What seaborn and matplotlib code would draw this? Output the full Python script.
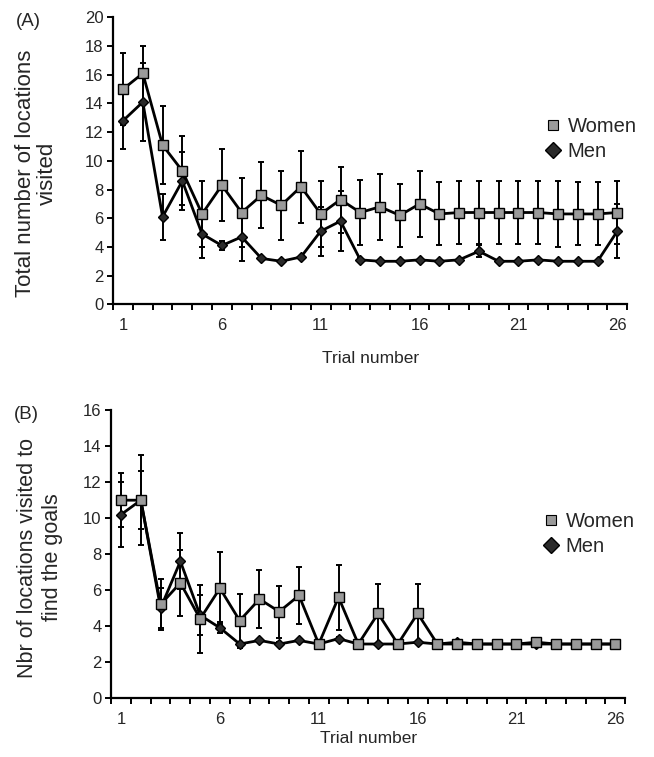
import numpy as np
import pandas as pd
import matplotlib
matplotlib.use("Agg")
import matplotlib.pyplot as plt
from matplotlib.lines import Line2D
import seaborn as sns

trials = list(range(1, 27))

# Panel A: total number of locations visited
women_a = [15.0, 16.1, 11.1, 9.3, 6.3, 8.3, 6.4, 7.6, 6.9, 8.2, 6.3, 7.3, 6.4,
           6.8, 6.2, 7.0, 6.3, 6.4, 6.4, 6.4, 6.4, 6.4, 6.3, 6.3, 6.3, 6.4]
women_a_err = [2.5, 1.9, 2.7, 2.4, 2.3, 2.5, 2.4, 2.3, 2.4, 2.5, 2.3, 2.3, 2.3,
               2.3, 2.2, 2.3, 2.2, 2.2, 2.2, 2.2, 2.2, 2.2, 2.3, 2.2, 2.2, 2.2]
men_a = [12.8, 14.1, 6.1, 8.6, 4.9, 4.1, 4.7, 3.2, 3.0, 3.3, 5.1, 5.8, 3.1,
         3.0, 3.0, 3.1, 3.0, 3.1, 3.7, 3.0, 3.0, 3.1, 3.0, 3.0, 3.0, 5.1]
men_a_err = [2.0, 2.7, 1.6, 2.0, 1.7, 0.3, 1.7, 0.1, 0.1, 0.1, 1.7, 2.1, 0.1,
             0.0, 0.0, 0.0, 0.0, 0.0, 0.4, 0.0, 0.0, 0.0, 0.0, 0.0, 0.0, 1.9]

# Panel B: locations visited to find the goals
women_b = [11.0, 11.0, 5.2, 6.4, 4.4, 6.1, 4.3, 5.5, 4.8, 5.7, 3.0, 5.6, 3.0,
           4.7, 3.0, 4.7, 3.0, 3.0, 3.0, 3.0, 3.0, 3.1, 3.0, 3.0, 3.0, 3.0]
women_b_err = [1.5, 2.5, 1.4, 1.85, 1.9, 2.0, 1.5, 1.6, 1.45, 1.6, 0.0, 1.8, 0.0,
               1.65, 0.0, 1.65, 0.0, 0.0, 0.0, 0.0, 0.0, 0.0, 0.0, 0.0, 0.0, 0.0]
men_b = [10.2, 11.0, 5.0, 7.6, 4.6, 3.9, 3.0, 3.2, 3.0, 3.2, 3.0, 3.3, 3.0,
         3.0, 3.0, 3.1, 3.0, 3.1, 3.0, 3.0, 3.0, 3.0, 3.0, 3.0, 3.0, 3.0]
men_b_err = [1.8, 1.6, 1.1, 1.55, 1.1, 0.3, 0.1, 0.1, 0.1, 0.1, 0.0, 0.1, 0.0,
             0.0, 0.0, 0.0, 0.0, 0.0, 0.0, 0.0, 0.0, 0.0, 0.0, 0.0, 0.0, 0.0]

sns.set_style("white")
plt.rcParams['font.family'] = ['Liberation Sans', 'DejaVu Sans']

fig = plt.figure(figsize=(6.54, 7.57), dpi=100)
ax_a = fig.add_axes([0.173, 0.598, 0.786, 0.379])
ax_b = fig.add_axes([0.170, 0.078, 0.786, 0.380])


def draw_panel(ax, women, women_err, men, men_err, ymax, ylabel, ylab_fs, ylab_ls,
               ylab_pos, xlab_pad, tag, leg_y):
    df = pd.DataFrame({"trial": trials, "women": women, "men": men})
    ax.errorbar(trials, men, yerr=men_err, fmt="none", ecolor="black",
                elinewidth=1.4, capsize=2.2, capthick=1.4, zorder=2)
    ax.errorbar(trials, women, yerr=women_err, fmt="none", ecolor="black",
                elinewidth=1.4, capsize=2.2, capthick=1.4, zorder=2)
    sns.lineplot(data=df, x="trial", y="men", ax=ax, color="black", lw=2,
                 marker="D", markersize=5.5, markerfacecolor="#2a2a2a",
                 markeredgecolor="black", markeredgewidth=1, zorder=3)
    sns.lineplot(data=df, x="trial", y="women", ax=ax, color="black", lw=2,
                 marker="s", markersize=7, markerfacecolor="#9a9a9a",
                 markeredgecolor="black", markeredgewidth=1, zorder=4)

    ax.set_xlim(0.5, 26.5)
    ax.set_ylim(0, ymax)
    ax.set_yticks(np.arange(0, ymax + 1, 2))
    ax.set_xticks(np.arange(0.5, 27, 1))
    ax.set_xticklabels([])
    ax.set_xticks([1, 6, 11, 16, 21, 26], minor=True)
    ax.set_xticklabels(["1", "6", "11", "16", "21", "26"], minor=True)
    ax.tick_params(axis="x", which="major", direction="out", length=4, width=1.4,
                   color="black", bottom=True)
    ax.tick_params(axis="x", which="minor", length=0, labelsize=12, pad=10)
    ax.tick_params(axis="y", direction="out", length=4, width=1.4, color="black",
                   left=True, labelsize=12, pad=3)
    for side in ["top", "right"]:
        ax.spines[side].set_visible(False)
    for side in ["left", "bottom"]:
        ax.spines[side].set_color("black")
        ax.spines[side].set_linewidth(1.6)
    ax.set_xlabel("Trial number", fontsize=12.5, labelpad=xlab_pad)
    ax.set_ylabel(ylabel, fontsize=ylab_fs, linespacing=ylab_ls)
    ax.yaxis.set_label_coords(*ylab_pos)

    handles = [
        Line2D([], [], ls="none", marker="s", markersize=7, markerfacecolor="#9a9a9a",
               markeredgecolor="black", markeredgewidth=0.8),
        Line2D([], [], ls="none", marker="D", markersize=8, markerfacecolor="#2a2a2a",
               markeredgecolor="black"),
    ]
    ax.legend(handles, ["Women", "Men"], loc="center left", bbox_to_anchor=(0.825, leg_y),
              frameon=False, fontsize=14.5, handlelength=0.8, handletextpad=0.3,
              labelspacing=0.3, borderaxespad=0)
    ax.text(-0.19, 0.985, tag, transform=ax.transAxes, fontsize=13.5, va="center", ha="left")


draw_panel(ax_a, women_a, women_a_err, men_a, men_a_err, 20,
           "Total number of locations\nvisited", 16, 1.05, (-0.107, 0.455), 13, "(A)", 0.575)
draw_panel(ax_b, women_b, women_b_err, men_b, men_b_err, 16,
           "Nbr of locations visited to\nfind the goals", 15.5, 1.3, (-0.093, 0.488), 3,
           "(B)", 0.57)

fig.savefig("out.png", dpi=100)
